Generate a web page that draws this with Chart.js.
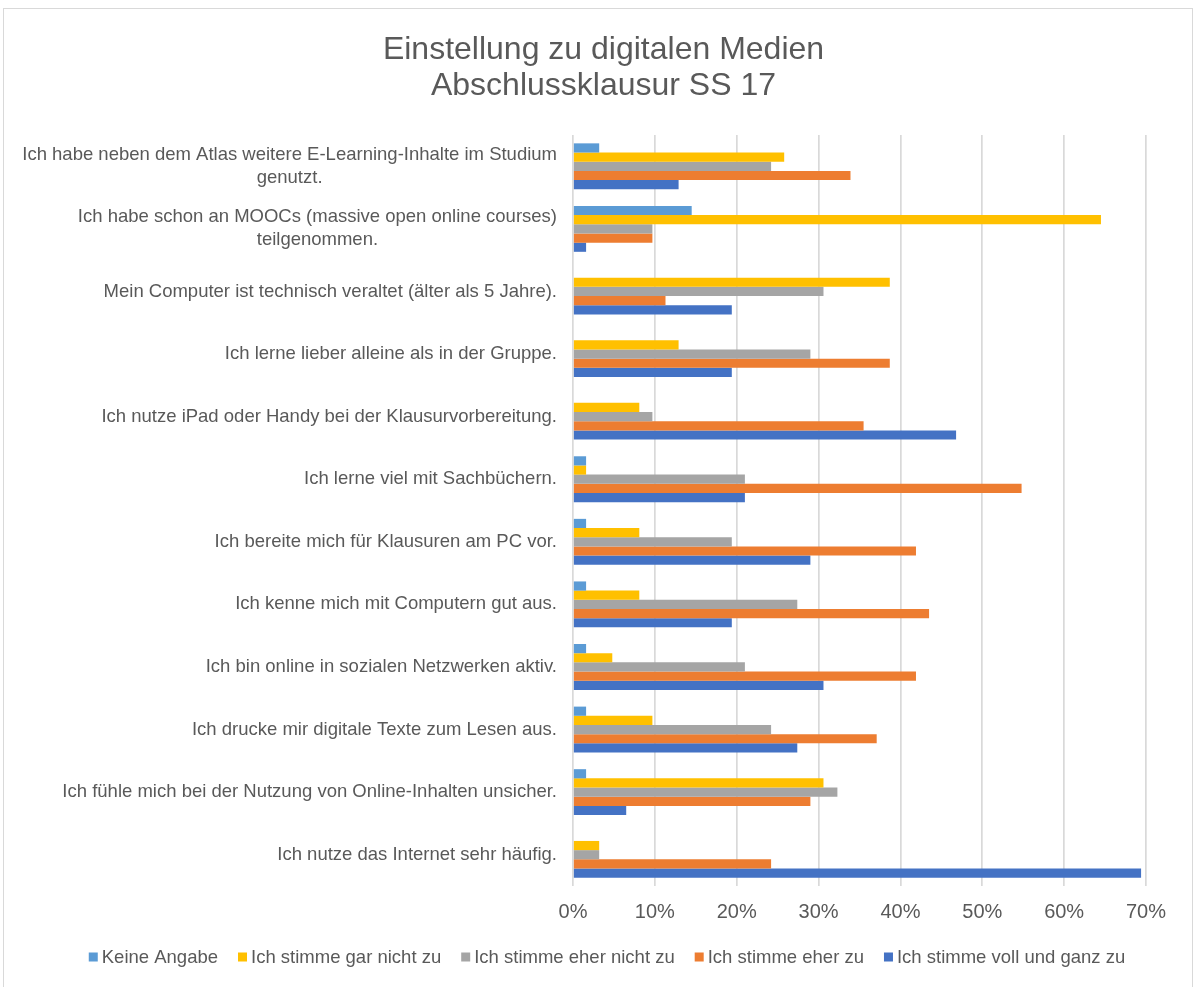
<!DOCTYPE html>
<html>
<head>
<meta charset="utf-8">
<script src="https://cdn.jsdelivr.net/npm/chart.js@4.4.1/dist/chart.umd.min.js"></script>
<style>
  html, body { margin: 0; padding: 0; background: #fff; }
  #frame { position: absolute; left: 3px; top: 8px; width: 1188px; height: 1000px; border: 1px solid #d9d9d9; }
  #chart { position: absolute; left: 0; top: 0; }
</style>
</head>
<body>
<div id="frame"></div>
<canvas id="chart" width="1200" height="987"></canvas>
<script>
// categories (top to bottom)
const categories = [
  ['Ich habe neben dem Atlas weitere E-Learning-Inhalte im Studium', 'genutzt.'],
  ['Ich habe schon an MOOCs (massive open online courses)', 'teilgenommen.'],
  'Mein Computer ist technisch veraltet (älter als 5 Jahre).',
  'Ich lerne lieber alleine als in der Gruppe.',
  'Ich nutze iPad oder Handy bei der Klausurvorbereitung.',
  'Ich lerne viel mit Sachbüchern.',
  'Ich bereite mich für Klausuren am PC vor.',
  'Ich kenne mich mit Computern gut aus.',
  'Ich bin online in sozialen Netzwerken aktiv.',
  'Ich drucke mir digitale Texte zum Lesen aus.',
  'Ich fühle mich bei der Nutzung von Online-Inhalten unsicher.',
  'Ich nutze das Internet sehr häufig.'
];

const seriesNames = ['Keine Angabe', 'Ich stimme gar nicht zu', 'Ich stimme eher nicht zu', 'Ich stimme eher zu', 'Ich stimme voll und ganz zu'];

// values in percent
const keineAngabe = [3.2, 14.5, 0, 0, 0, 1.6, 1.6, 1.6, 1.6, 1.6, 1.6, 0];
const garNicht    = [25.8, 64.5, 38.7, 12.9, 8.1, 1.6, 8.1, 8.1, 4.8, 9.7, 30.6, 3.2];
const eherNicht   = [24.2, 9.7, 30.6, 29.0, 9.7, 21.0, 19.4, 27.4, 21.0, 24.2, 32.3, 3.2];
const eherZu      = [33.9, 9.7, 11.3, 38.7, 35.5, 54.8, 41.9, 43.5, 41.9, 37.1, 29.0, 24.2];
const vollGanz    = [12.9, 1.6, 19.4, 19.4, 46.8, 21.0, 29.0, 19.4, 30.6, 27.4, 6.5, 69.4];

const xTickLabels = ['0%', '10%', '20%', '30%', '40%', '50%', '60%', '70%'];

const colors = ['#5B9BD5', '#FFC000', '#A5A5A5', '#ED7D31', '#4472C4'];
const series = [keineAngabe, garNicht, eherNicht, eherZu, vollGanz];

const FONT = '"Liberation Sans", Arial, sans-serif';
const TEXT = '#595959';
Chart.defaults.font.family = FONT;
Chart.defaults.color = TEXT;

// category labels: block right aligned, lines centred inside the block
// plus an Excel-like legend (small square, tight gap)
const extras = {
  id: 'extras',
  afterDraw(chart) {
    const ctx = chart.ctx;
    const y = chart.scales.y;
    ctx.save();
    ctx.font = '18.5px ' + FONT;
    ctx.fillStyle = TEXT;
    ctx.textAlign = 'center';
    ctx.textBaseline = 'middle';
    categories.forEach((lab, i) => {
      const lines = Array.isArray(lab) ? lab : [lab];
      const w = Math.max(...lines.map(l => ctx.measureText(l).width));
      const cx = chart.chartArea.left - 16 - w / 2;
      const cy = y.getPixelForValue(i);
      lines.forEach((l, j) => ctx.fillText(l, cx, cy + (j - (lines.length - 1) / 2) * 23));
    });

    // legend
    const box = 9, gap = 4, spacing = 20, ly = 957;
    const widths = seriesNames.map(n => ctx.measureText(n).width);
    const total = widths.reduce((a, w) => a + box + gap + w, 0) + spacing * (seriesNames.length - 1);
    let x = 607 - total / 2;
    ctx.textAlign = 'left';
    seriesNames.forEach((n, i) => {
      ctx.fillStyle = colors[i];
      ctx.fillRect(x, ly - box / 2, box, box);
      ctx.fillStyle = TEXT;
      ctx.fillText(n, x + box + gap, ly + 1);
      x += box + gap + widths[i] + spacing;
    });
    ctx.restore();
  }
};

new Chart(document.getElementById('chart'), {
  type: 'bar',
  data: {
    labels: categories,
    datasets: series.map((d, i) => ({
      label: seriesNames[i],
      data: d,
      backgroundColor: colors[i],
      borderWidth: 0,
      barPercentage: 1,
      categoryPercentage: 0.733
    }))
  },
  options: {
    indexAxis: 'y',
    responsive: false,
    devicePixelRatio: 1,
    animation: false,
    layout: { padding: { left: 61, right: 54, top: 0, bottom: 49 } },
    scales: {
      x: {
        min: 0,
        max: 70,
        ticks: {
          stepSize: 10,
          padding: 14,
          color: TEXT,
          font: { size: 20 },
          callback: (v) => xTickLabels[v / 10]
        },
        grid: { color: '#d9d9d9', lineWidth: 1.7, drawTicks: false },
        border: { display: false }
      },
      y: {
        ticks: { display: false },
        grid: { display: false },
        border: { display: false },
        afterFit: (s) => { s.width = 512; }
      }
    },
    plugins: {
      title: {
        display: true,
        text: ['Einstellung zu digitalen Medien', 'Abschlussklausur SS 17'],
        color: TEXT,
        font: { size: 32, weight: 'normal', lineHeight: '36px' },
        padding: { top: 32, bottom: 31 }
      },
      legend: { display: false },
      tooltip: { enabled: false }
    }
  },
  plugins: [extras]
});
</script>
</body>
</html>
